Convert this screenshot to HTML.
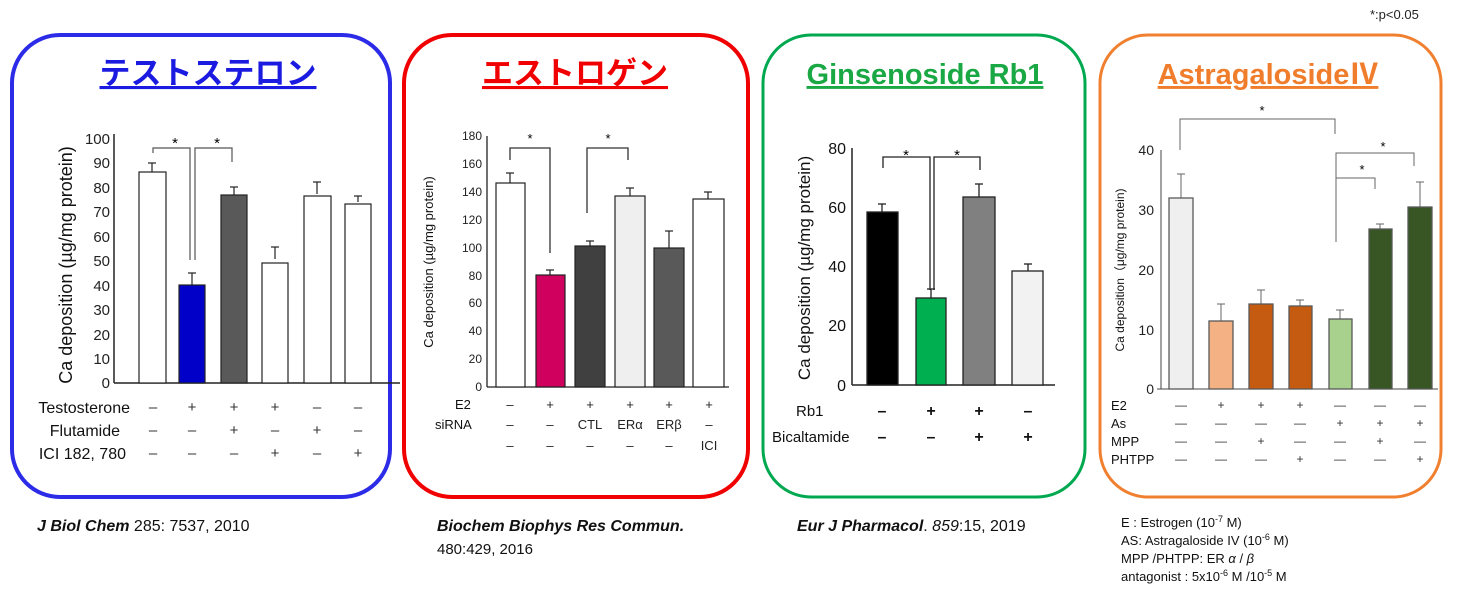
<!DOCTYPE html>
<html><head><meta charset="utf-8"><style>
body{margin:0;background:#fff}
svg{display:block;font-family:"Liberation Sans","Noto Sans CJK JP",sans-serif}
</style></head><body>
<svg width="1457" height="604" viewBox="0 0 1457 604" xmlns="http://www.w3.org/2000/svg">
<!-- boxes -->
<rect x="12" y="35" width="378" height="462" rx="48" fill="none" stroke="#2b2be8" stroke-width="4"/>
<rect x="404" y="35" width="344" height="462" rx="48" fill="none" stroke="#f00000" stroke-width="4"/>
<rect x="763" y="35" width="322" height="462" rx="48" fill="none" stroke="#00a84f" stroke-width="3"/>
<rect x="1100" y="35" width="341" height="462" rx="48" fill="none" stroke="#f08030" stroke-width="3"/>
<text x="1370" y="19" font-size="13" fill="#222">*:p&lt;0.05</text>
<!-- titles -->
<text x="208" y="84" font-size="31" font-weight="bold" fill="#1a1ae0" text-anchor="middle" text-decoration="underline">テストステロン</text>
<text x="575" y="84" font-size="31" font-weight="bold" fill="#f00000" text-anchor="middle" text-decoration="underline">エストロゲン</text>
<text x="925" y="84" font-size="29" font-weight="bold" fill="#1aa845" text-anchor="middle" text-decoration="underline">Ginsenoside Rb1</text>
<text x="1268" y="84" font-size="29" font-weight="bold" fill="#f07d2c" text-anchor="middle" text-decoration="underline">AstragalosideⅣ</text>

<!-- Panel 1 -->
<g font-size="15" fill="#222" text-anchor="end">
<text x="110" y="388">0</text><text x="110" y="364">10</text><text x="110" y="340">20</text><text x="110" y="315">30</text><text x="110" y="291">40</text><text x="110" y="266">50</text><text x="110" y="242">60</text><text x="110" y="217">70</text><text x="110" y="193">80</text><text x="110" y="168">90</text><text x="110" y="144">100</text>
</g>
<text transform="translate(72,265) rotate(-90)" font-size="18" text-anchor="middle" fill="#111">Ca deposition (µg/mg protein)</text>
<line x1="114" y1="134" x2="114" y2="383" stroke="#222" stroke-width="1.5"/>
<line x1="114" y1="383" x2="400" y2="383" stroke="#222" stroke-width="1.5"/>
<g stroke="#222" stroke-width="1.2">
<line x1="152" y1="172" x2="152" y2="163"/><line x1="148" y1="163" x2="156" y2="163"/>
<line x1="192" y1="285" x2="192" y2="273"/><line x1="188" y1="273" x2="196" y2="273"/>
<line x1="234" y1="196" x2="234" y2="187"/><line x1="230" y1="187" x2="238" y2="187"/>
<line x1="275" y1="259" x2="275" y2="247"/><line x1="271" y1="247" x2="279" y2="247"/>
<line x1="317" y1="194" x2="317" y2="182"/><line x1="313" y1="182" x2="321" y2="182"/>
<line x1="358" y1="202" x2="358" y2="196"/><line x1="354" y1="196" x2="362" y2="196"/>
</g>
<g stroke="#222" stroke-width="1.2">
<rect x="139" y="172" width="27" height="211" fill="#fff"/>
<rect x="179" y="285" width="26" height="98" fill="#0000c8"/>
<rect x="221" y="195" width="26" height="188" fill="#595959"/>
<rect x="262" y="263" width="26" height="120" fill="#fff"/>
<rect x="304" y="196" width="27" height="187" fill="#fff"/>
<rect x="345" y="204" width="26" height="179" fill="#fff"/>
</g>
<path d="M153 153V148H190V260M195 260V148H232V162" fill="none" stroke="#555" stroke-width="1.2"/>
<text x="175" y="148" font-size="15" text-anchor="middle">*</text>
<text x="217" y="148" font-size="15" text-anchor="middle">*</text>
<g font-size="16" fill="#111">
<text x="130" y="413" text-anchor="end">Testosterone</text>
<text x="120" y="436" text-anchor="end">Flutamide</text>
<text x="126" y="459" text-anchor="end">ICI 182, 780</text>
</g>
<g font-size="15" fill="#333" text-anchor="middle">
<text x="153" y="412">–</text><text x="192" y="412">+</text><text x="234" y="412">+</text><text x="275" y="412">+</text><text x="317" y="412">–</text><text x="358" y="412">–</text>
<text x="153" y="435">–</text><text x="192" y="435">–</text><text x="234" y="435">+</text><text x="275" y="435">–</text><text x="317" y="435">+</text><text x="358" y="435">–</text>
<text x="153" y="458">–</text><text x="192" y="458">–</text><text x="234" y="458">–</text><text x="275" y="458">+</text><text x="317" y="458">–</text><text x="358" y="458">+</text>
</g>

<!-- Panel 2 -->
<g font-size="12" fill="#222" text-anchor="end">
<text x="482" y="391">0</text><text x="482" y="363">20</text><text x="482" y="335">40</text><text x="482" y="307">60</text><text x="482" y="280">80</text><text x="482" y="252">100</text><text x="482" y="224">120</text><text x="482" y="196">140</text><text x="482" y="168">160</text><text x="482" y="140">180</text>
</g>
<text transform="translate(433,262) rotate(-90)" font-size="13" text-anchor="middle" fill="#111">Ca deposition (µg/mg protein)</text>
<line x1="487" y1="136" x2="487" y2="387" stroke="#222" stroke-width="1.3"/>
<line x1="487" y1="387" x2="729" y2="387" stroke="#222" stroke-width="1.3"/>
<g stroke="#222" stroke-width="1.2">
<line x1="510" y1="183" x2="510" y2="173"/><line x1="506" y1="173" x2="514" y2="173"/>
<line x1="550" y1="275" x2="550" y2="270"/><line x1="546" y1="270" x2="554" y2="270"/>
<line x1="590" y1="246" x2="590" y2="241"/><line x1="586" y1="241" x2="594" y2="241"/>
<line x1="630" y1="196" x2="630" y2="188"/><line x1="626" y1="188" x2="634" y2="188"/>
<line x1="669" y1="248" x2="669" y2="231"/><line x1="665" y1="231" x2="673" y2="231"/>
<line x1="708" y1="200" x2="708" y2="192"/><line x1="704" y1="192" x2="712" y2="192"/>
</g>
<g stroke="#222" stroke-width="1.2">
<rect x="496" y="183" width="29" height="204" fill="#fff"/>
<rect x="536" y="275" width="29" height="112" fill="#d0005e"/>
<rect x="575" y="246" width="30" height="141" fill="#404040"/>
<rect x="615" y="196" width="30" height="191" fill="#efefef"/>
<rect x="654" y="248" width="30" height="139" fill="#595959"/>
<rect x="693" y="199" width="31" height="188" fill="#fff"/>
</g>
<path d="M510 160V148H550V253M587 213V148H628V160" fill="none" stroke="#333" stroke-width="1.3"/>
<text x="530" y="143" font-size="13" text-anchor="middle">*</text>
<text x="608" y="143" font-size="13" text-anchor="middle">*</text>
<g font-size="13" fill="#111">
<text x="455" y="409">E2</text><text x="435" y="429">siRNA</text>
</g>
<g font-size="13" fill="#222" text-anchor="middle">
<text x="510" y="409">–</text><text x="550" y="409">+</text><text x="590" y="409">+</text><text x="630" y="409">+</text><text x="669" y="409">+</text><text x="709" y="409">+</text>
<text x="510" y="429">–</text><text x="550" y="429">–</text><text x="590" y="429">CTL</text><text x="630" y="429">ERα</text><text x="669" y="429">ERβ</text><text x="709" y="429">–</text>
<text x="510" y="450">–</text><text x="550" y="450">–</text><text x="590" y="450">–</text><text x="630" y="450">–</text><text x="669" y="450">–</text><text x="709" y="450">ICI</text>
</g>

<!-- Panel 3 -->
<g font-size="16" fill="#111" text-anchor="end">
<text x="846" y="391">0</text><text x="846" y="331">20</text><text x="846" y="272">40</text><text x="846" y="213">60</text><text x="846" y="154">80</text>
</g>
<text transform="translate(810,268) rotate(-90)" font-size="17" text-anchor="middle" fill="#111">Ca deposition (µg/mg protein)</text>
<line x1="852" y1="148" x2="852" y2="385" stroke="#222" stroke-width="1.5"/>
<line x1="852" y1="385" x2="1055" y2="385" stroke="#222" stroke-width="1.5"/>
<g stroke="#222" stroke-width="1.3">
<line x1="882" y1="212" x2="882" y2="204"/><line x1="878" y1="204" x2="886" y2="204"/>
<line x1="931" y1="298" x2="931" y2="289"/><line x1="927" y1="289" x2="935" y2="289"/>
<line x1="979" y1="197" x2="979" y2="184"/><line x1="975" y1="184" x2="983" y2="184"/>
<line x1="1028" y1="271" x2="1028" y2="264"/><line x1="1024" y1="264" x2="1032" y2="264"/>
</g>
<g stroke="#222" stroke-width="1.3">
<rect x="867" y="212" width="31" height="173" fill="#000"/>
<rect x="916" y="298" width="30" height="87" fill="#00b050"/>
<rect x="963" y="197" width="32" height="188" fill="#808080"/>
<rect x="1012" y="271" width="31" height="114" fill="#f2f2f2"/>
</g>
<path d="M883 168V157H930V290M934 290V157H980V170" fill="none" stroke="#222" stroke-width="1.3"/>
<text x="906" y="160" font-size="15" text-anchor="middle">*</text>
<text x="957" y="160" font-size="15" text-anchor="middle">*</text>
<g font-size="15" fill="#111">
<text x="796" y="416">Rb1</text><text x="772" y="442">Bicaltamide</text>
</g>
<g font-size="16" fill="#111" text-anchor="middle" font-weight="bold">
<text x="882" y="416">–</text><text x="931" y="416">+</text><text x="979" y="416">+</text><text x="1028" y="416">–</text>
<text x="882" y="442">–</text><text x="931" y="442">–</text><text x="979" y="442">+</text><text x="1028" y="442">+</text>
</g>

<!-- Panel 4 -->
<g font-size="14" fill="#222" text-anchor="end">
<text x="1154" y="394">0</text><text x="1154" y="335">10</text><text x="1154" y="275">20</text><text x="1154" y="215">30</text><text x="1154" y="155">40</text>
</g>
<text transform="translate(1124,270) rotate(-90)" font-size="12" text-anchor="middle" fill="#111">Ca deposition（μg/mg protein)</text>
<line x1="1161" y1="150" x2="1161" y2="389" stroke="#444" stroke-width="1"/>
<line x1="1157" y1="389" x2="1438" y2="389" stroke="#444" stroke-width="1"/>
<g stroke="#666" stroke-width="1">
<line x1="1181" y1="198" x2="1181" y2="174"/><line x1="1177" y1="174" x2="1185" y2="174"/>
<line x1="1221" y1="321" x2="1221" y2="304"/><line x1="1217" y1="304" x2="1225" y2="304"/>
<line x1="1261" y1="304" x2="1261" y2="290"/><line x1="1257" y1="290" x2="1265" y2="290"/>
<line x1="1300" y1="306" x2="1300" y2="300"/><line x1="1296" y1="300" x2="1304" y2="300"/>
<line x1="1340" y1="319" x2="1340" y2="310"/><line x1="1336" y1="310" x2="1344" y2="310"/>
<line x1="1380" y1="229" x2="1380" y2="224"/><line x1="1376" y1="224" x2="1384" y2="224"/>
<line x1="1420" y1="207" x2="1420" y2="182"/><line x1="1416" y1="182" x2="1424" y2="182"/>
</g>
<g stroke="#595959" stroke-width="1.3">
<rect x="1169" y="198" width="24" height="191" fill="#efefef"/>
<rect x="1209" y="321" width="24" height="68" fill="#f4b183"/>
<rect x="1249" y="304" width="24" height="85" fill="#c55a11"/>
<rect x="1289" y="306" width="23" height="83" fill="#c55a11"/>
<rect x="1329" y="319" width="23" height="70" fill="#a9d18e"/>
<rect x="1369" y="229" width="23" height="160" fill="#375623"/>
<rect x="1408" y="207" width="24" height="182" fill="#375623"/>
</g>
<path d="M1180 150V119H1335V134M1336 242V153H1414V166M1336 178H1375V189" fill="none" stroke="#666" stroke-width="1"/>
<text x="1262" y="115" font-size="13" text-anchor="middle">*</text>
<text x="1383" y="151" font-size="13" text-anchor="middle">*</text>
<text x="1362" y="174" font-size="13" text-anchor="middle">*</text>
<g font-size="13" fill="#111">
<text x="1111" y="410">E2</text><text x="1111" y="428">As</text><text x="1111" y="446">MPP</text><text x="1111" y="464">PHTPP</text>
</g>
<g font-size="12" fill="#333" text-anchor="middle">
<text x="1181" y="409">—</text><text x="1221" y="409">+</text><text x="1261" y="409">+</text><text x="1300" y="409">+</text><text x="1340" y="409">—</text><text x="1380" y="409">—</text><text x="1420" y="409">—</text>
<text x="1181" y="427">—</text><text x="1221" y="427">—</text><text x="1261" y="427">—</text><text x="1300" y="427">—</text><text x="1340" y="427">+</text><text x="1380" y="427">+</text><text x="1420" y="427">+</text>
<text x="1181" y="445">—</text><text x="1221" y="445">—</text><text x="1261" y="445">+</text><text x="1300" y="445">—</text><text x="1340" y="445">—</text><text x="1380" y="445">+</text><text x="1420" y="445">—</text>
<text x="1181" y="463">—</text><text x="1221" y="463">—</text><text x="1261" y="463">—</text><text x="1300" y="463">+</text><text x="1340" y="463">—</text><text x="1380" y="463">—</text><text x="1420" y="463">+</text>
</g>

<!-- citations -->
<text x="37" y="531" font-size="16" fill="#111"><tspan font-style="italic" font-weight="bold">J Biol Chem</tspan> 285: 7537, 2010</text>
<text x="437" y="531" font-size="16" fill="#111" font-style="italic" font-weight="bold">Biochem Biophys Res Commun.</text>
<text x="437" y="554" font-size="15" fill="#111">480:429, 2016</text>
<text x="797" y="531" font-size="16" fill="#111"><tspan font-style="italic" font-weight="bold">Eur J Pharmacol</tspan>. <tspan font-style="italic">859</tspan>:15, 2019</text>
<g font-size="13" fill="#111">
<text x="1121" y="527">E : Estrogen (10<tspan font-size="9" dy="-5">-7</tspan><tspan dy="5"> M)</tspan></text>
<text x="1121" y="545">AS: Astragaloside IV (10<tspan font-size="9" dy="-5">-6</tspan><tspan dy="5"> M)</tspan></text>
<text x="1121" y="563">MPP /PHTPP: ER <tspan font-style="italic">α</tspan> / <tspan font-style="italic">β</tspan></text>
<text x="1121" y="581">antagonist : 5x10<tspan font-size="9" dy="-5">-6</tspan><tspan dy="5"> M /10</tspan><tspan font-size="9" dy="-5">-5</tspan><tspan dy="5"> M</tspan></text>
</g>
</svg>
</body></html>
